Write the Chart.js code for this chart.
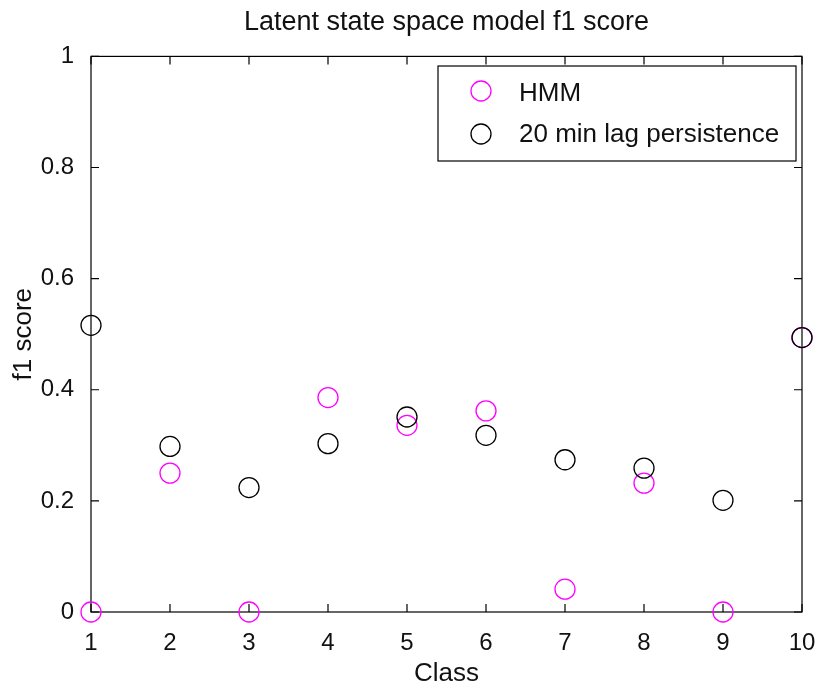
<!DOCTYPE html>
<html><head><meta charset="utf-8">
<script src="https://cdn.jsdelivr.net/npm/chart.js@4.4.1/dist/chart.umd.min.js"></script>
<style>html,body{margin:0;padding:0;background:#fff;}</style>
</head><body>
<canvas id="c" width="821" height="691" style="width:821px;height:691px;display:block"></canvas>
<script>
const titleText = 'Latent state space model f1 score';
const xLabel = 'Class';
const yLabel = 'f1 score';
const classes = [1, 2, 3, 4, 5, 6, 7, 8, 9, 10];
const yTicks = [0, 0.2, 0.4, 0.6, 0.8, 1];
const hmmLabel = 'HMM';
const hmmScores = [0, 0.250, 0, 0.386, 0.336, 0.362, 0.041, 0.232, 0, 0.494];
const persLabel = '20 min lag persistence';
const persScores = [0.516, 0.298, 0.224, 0.303, 0.351, 0.318, 0.274, 0.259, 0.201, 0.494];

const FONT = "'Liberation Sans', Arial, sans-serif";
const TXT = '#111';

const frameAndTicks = {
  id: 'frameAndTicks',
  beforeDatasetsDraw(chart) {
    const {ctx, chartArea: a, scales} = chart;
    ctx.save();
    ctx.strokeStyle = '#000';
    ctx.lineWidth = 1.2;
    ctx.strokeRect(a.left, a.top, a.right - a.left, a.bottom - a.top);
    const L = 8;
    ctx.beginPath();
    scales.x.ticks.forEach(t => {
      const px = scales.x.getPixelForValue(t.value);
      ctx.moveTo(px, a.bottom); ctx.lineTo(px, a.bottom - L);
      ctx.moveTo(px, a.top); ctx.lineTo(px, a.top + L);
    });
    scales.y.ticks.forEach(t => {
      const py = scales.y.getPixelForValue(t.value);
      ctx.moveTo(a.left, py); ctx.lineTo(a.left + L, py);
      ctx.moveTo(a.right, py); ctx.lineTo(a.right - L, py);
    });
    ctx.stroke();
    ctx.restore();
  }
};

const boxLegend = {
  id: 'boxLegend',
  afterDraw(chart) {
    const {ctx} = chart;
    const x0 = 438, y0 = 66, w = 358, h = 95;
    ctx.save();
    ctx.fillStyle = '#fff';
    ctx.fillRect(x0, y0, w, h);
    ctx.strokeStyle = '#000';
    ctx.lineWidth = 1.2;
    ctx.strokeRect(x0, y0, w, h);
    const rows = [91, 134];
    chart.data.datasets.forEach((ds, i) => {
      ctx.beginPath();
      ctx.arc(481, rows[i], 10, 0, Math.PI * 2);
      ctx.strokeStyle = ds.borderColor;
      ctx.lineWidth = ds.borderWidth;
      ctx.stroke();
      ctx.fillStyle = TXT;
      ctx.font = '26px ' + FONT;
      ctx.textAlign = 'left';
      ctx.textBaseline = 'middle';
      ctx.fillText(ds.label, 519, rows[i] + (i === 0 ? 3 : 1));
    });
    ctx.restore();
  }
};

new Chart(document.getElementById('c'), {
  type: 'scatter',
  data: {
    datasets: [
      {
        label: hmmLabel,
        data: classes.map((c, i) => ({x: c, y: hmmScores[i]})),
        borderColor: '#ff00ff',
        backgroundColor: 'rgba(0,0,0,0)',
        borderWidth: 1.3,
        pointRadius: 10,
        pointHoverRadius: 10,
        clip: false,
        order: 1
      },
      {
        label: persLabel,
        data: classes.map((c, i) => ({x: c, y: persScores[i]})),
        borderColor: '#000000',
        backgroundColor: 'rgba(0,0,0,0)',
        borderWidth: 1.3,
        pointRadius: 10,
        pointHoverRadius: 10,
        clip: false,
        order: 0
      }
    ]
  },
  options: {
    responsive: false,
    animation: false,
    events: [],
    layout: {padding: {left: 0, right: 19, top: 0, bottom: 0}},
    plugins: {
      legend: {display: false},
      tooltip: {enabled: false},
      title: {
        display: true,
        fullSize: false,
        text: titleText,
        color: TXT,
        font: {family: FONT, size: 27, weight: 'normal'},
        padding: {top: 6, bottom: 18}
      }
    },
    scales: {
      x: {
        type: 'linear',
        min: 1, max: 10,
        afterBuildTicks: s => { s.ticks = classes.map(v => ({value: v})); },
        afterFit: s => { s.height = 79; s.paddingLeft = 0; s.paddingRight = 0; },
        grid: {display: false},
        border: {display: false},
        ticks: {color: TXT, font: {family: FONT, size: 24}, padding: 9, maxRotation: 0, autoSkip: false,
          callback: v => String(v)},
        title: {display: true, text: xLabel, color: TXT, font: {family: FONT, size: 26}, padding: {top: 0, bottom: 2}}
      },
      y: {
        type: 'linear',
        min: 0, max: 1,
        afterBuildTicks: s => { s.ticks = yTicks.map(v => ({value: v})); },
        afterFit: s => { s.width = 91; s.paddingTop = 0; s.paddingBottom = 0; },
        grid: {display: false},
        border: {display: false},
        ticks: {color: TXT, font: {family: FONT, size: 24}, padding: 9,
          callback: v => String(Math.round(v * 10) / 10)},
        title: {display: true, text: yLabel, color: TXT, font: {family: FONT, size: 26}, padding: {top: 8, bottom: 0}}
      }
    }
  },
  plugins: [frameAndTicks, boxLegend]
});
</script>
</body></html>
